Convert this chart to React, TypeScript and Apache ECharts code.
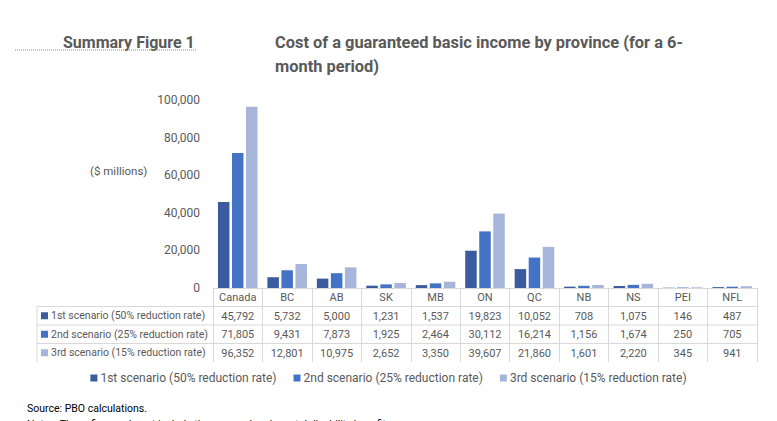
import React, { useEffect, useRef } from "react";
import * as echarts from "echarts";

// Provinces and the cost of each scenario ($ millions)
const provinces = ["Canada", "BC", "AB", "SK", "MB", "ON", "QC", "NB", "NS", "PEI", "NFL"];
const scenarioNames = [
  "1st scenario (50% reduction rate)",
  "2nd scenario (25% reduction rate)",
  "3rd scenario (15% reduction rate)",
];
const scenario1 = [45792, 5732, 5000, 1231, 1537, 19823, 10052, 708, 1075, 146, 487];
const scenario2 = [71805, 9431, 7873, 1925, 2464, 30112, 16214, 1156, 1674, 250, 705];
const scenario3 = [96352, 12801, 10975, 2652, 3350, 39607, 21860, 1601, 2220, 345, 941];
const yTicks = [0, 20000, 40000, 60000, 80000, 100000];

const seriesValues = [scenario1, scenario2, scenario3];
const colors = ["#3a5c9e", "#4472c4", "#a7b5da"];

const FONT = "Roboto, 'Noto Sans', sans-serif";
const TEXT = "#595959";
const LINE = "#d9d9d9";

// table geometry
const GRID_LEFT = 213;
const GRID_RIGHT = 20;
const GRID_TOP = 100;
const AXIS_Y = 288;
const ROW_H = 18.5;
const TABLE_LEFT = 37;
const TABLE_RIGHT = 777 - GRID_RIGHT;

const fmt = (v: number) => v.toLocaleString("en-US");

export default function App() {
  const ref = useRef<HTMLDivElement>(null);

  useEffect(() => {
    if (!ref.current) return;
    const chart = echarts.init(ref.current, null, { renderer: "svg" });

    const rowAxes = seriesValues.map((vals, i) => ({
      type: "category" as const,
      position: "bottom" as const,
      offset: ROW_H * (i + 1),
      data: vals.map(fmt),
      axisLine: { show: false },
      axisTick: { show: false },
      axisLabel: { interval: 0, margin: 4, fontSize: 11, color: TEXT, fontFamily: FONT },
    }));

    const graphics: any[] = [];
    // horizontal table rules
    for (let i = 1; i <= 3; i++) {
      const y = AXIS_Y + ROW_H * i;
      graphics.push({
        type: "line",
        shape: { x1: TABLE_LEFT, y1: y, x2: TABLE_RIGHT, y2: y },
        style: { stroke: LINE, lineWidth: 1 },
      });
    }
    // left edge of the row-label column
    graphics.push({
      type: "line",
      shape: { x1: TABLE_LEFT, y1: AXIS_Y + ROW_H, x2: TABLE_LEFT, y2: AXIS_Y + ROW_H * 4 },
      style: { stroke: LINE, lineWidth: 1 },
    });
    // row labels with legend keys
    scenarioNames.forEach((name, i) => {
      const cy = AXIS_Y + ROW_H * (i + 1.5);
      graphics.push({
        type: "rect",
        shape: { x: 41, y: cy - 3.5, width: 7, height: 7 },
        style: { fill: colors[i] },
      });
      graphics.push({
        type: "text",
        x: 51,
        y: cy,
        style: {
          text: name,
          fill: TEXT,
          font: `10.5px ${FONT}`,
          textVerticalAlign: "middle",
        },
      });
    });
    // headings
    graphics.push(
      {
        type: "text",
        x: 63,
        y: 42,
        style: { text: "Summary Figure 1", fill: TEXT, font: `bold 16px ${FONT}`, textVerticalAlign: "middle" },
      },
      {
        type: "line",
        shape: { x1: 15, y1: 50, x2: 197, y2: 50 },
        style: { stroke: "#8c8c8c", lineWidth: 1, lineDash: [1, 1] },
      },
      {
        type: "text",
        x: 275,
        y: 42,
        style: {
          text: "Cost of a guaranteed basic income by province (for a 6-",
          fill: TEXT,
          font: `bold 16.4px ${FONT}`,
          textVerticalAlign: "middle",
        },
      },
      {
        type: "text",
        x: 275,
        y: 66,
        style: { text: "month period)", fill: TEXT, font: `bold 16.4px ${FONT}`, textVerticalAlign: "middle" },
      },
      {
        type: "text",
        x: 90,
        y: 171,
        style: { text: "($ millions)", fill: TEXT, font: `11.5px ${FONT}`, textVerticalAlign: "middle" },
      },
      {
        type: "text",
        x: 27,
        y: 408,
        style: { text: "Source: PBO calculations.", fill: "#000", font: `10.5px ${FONT}`, textVerticalAlign: "middle" },
      },
      {
        type: "text",
        x: 27,
        y: 424,
        style: {
          text: "Notes: These figures do not include the personal and mental disability benefits.",
          fill: "#000",
          font: `10.5px ${FONT}`,
          textVerticalAlign: "middle",
        },
      }
    );

    chart.setOption({
      animation: false,
      textStyle: { fontFamily: FONT },
      grid: {
        left: GRID_LEFT,
        right: GRID_RIGHT,
        top: GRID_TOP,
        bottom: 421 - AXIS_Y,
        containLabel: false,
      },
      legend: {
        data: scenarioNames,
        bottom: 32,
        left: "center",
        itemWidth: 7,
        itemHeight: 7,
        itemGap: 17,
        icon: "rect",
        textStyle: { fontSize: 12, color: TEXT, fontFamily: FONT, padding: [0, 0, 0, -2] },
      },
      xAxis: [
        {
          type: "category",
          data: provinces,
          axisLine: { show: true, lineStyle: { color: LINE } },
          axisTick: { show: true, length: ROW_H * 4, lineStyle: { color: LINE } },
          axisLabel: { interval: 0, margin: 4, fontSize: 11, color: TEXT, fontFamily: FONT },
        },
        ...rowAxes,
      ],
      yAxis: {
        type: "value",
        min: yTicks[0],
        max: yTicks[yTicks.length - 1],
        interval: yTicks[1] - yTicks[0],
        axisLine: { show: false },
        axisTick: { show: false },
        splitLine: { show: false },
        axisLabel: {
          margin: 13,
          fontSize: 12,
          color: TEXT,
          fontFamily: FONT,
          formatter: (v: number) => fmt(v),
        },
      },
      series: seriesValues.map((vals, i) => ({
        name: scenarioNames[i],
        type: "bar",
        xAxisIndex: 0,
        data: vals,
        itemStyle: { color: colors[i] },
        barGap: "22%",
        barCategoryGap: "20%",
      })),
      graphic: graphics,
    });

    return () => chart.dispose();
  }, []);

  return <div ref={ref} style={{ width: 777, height: 421, position: "absolute", left: 0, top: 0 }} />;
}
